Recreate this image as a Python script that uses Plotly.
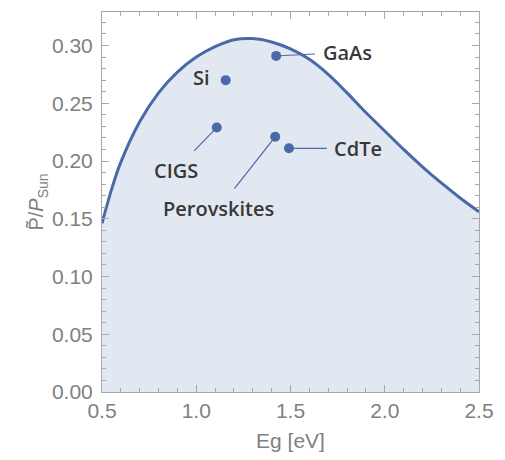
import plotly.graph_objects as go

# Efficiency limit curve
eg_curve = [0.50, 0.55, 0.60, 0.70, 0.80, 0.90, 1.00, 1.10, 1.20, 1.30, 1.40, 1.50,
            1.60, 1.70, 1.80, 1.90, 2.00, 2.10, 2.20, 2.30, 2.40, 2.50]
p_curve = [0.146, 0.175, 0.199, 0.234, 0.259, 0.277, 0.290, 0.299, 0.305, 0.306, 0.303, 0.297,
           0.288, 0.275, 0.259, 0.242, 0.226, 0.210, 0.195, 0.181, 0.168, 0.156]

# Material data points
materials = ["Si", "GaAs", "CIGS", "Perovskites", "CdTe"]
eg_mat = [1.156, 1.424, 1.109, 1.419, 1.492]
p_mat = [0.270, 0.291, 0.229, 0.221, 0.211]

# Label positions (layout)
label_x = [1.03, 1.80, 0.89, 1.12, 1.86]
label_y = [0.272, 0.294, 0.192, 0.159, 0.211]
has_leader = [False, True, True, True, True]

x_ticks = [0.5, 1.0, 1.5, 2.0, 2.5]
y_ticks = [0.00, 0.05, 0.10, 0.15, 0.20, 0.25, 0.30]

blue = "#4a69a8"
frame = "#a8a8a8"
tick_font = dict(family="Liberation Sans, Arial, sans-serif", size=21, color="#808080")
label_font = dict(family="Open Sans, sans-serif", size=20, color="#383838", weight=600)

fig = go.Figure()
fig.add_trace(go.Scatter(
    x=eg_curve, y=p_curve, mode="lines",
    line=dict(color=blue, width=3, shape="spline", smoothing=1.0),
    fill="tozeroy", fillcolor="rgba(94,129,181,0.18)",
    hoverinfo="skip", showlegend=False,
))
fig.add_trace(go.Scatter(
    x=eg_mat, y=p_mat, mode="markers",
    marker=dict(color=blue, size=10),
    showlegend=False,
))

for name, x0, y0, lx, ly, lead in zip(materials, eg_mat, p_mat, label_x, label_y, has_leader):
    if lead:
        fig.add_annotation(
            x=x0, y=y0, ax=lx, ay=ly, axref="x", ayref="y", xref="x", yref="y",
            text=name, showarrow=True, arrowhead=0, arrowwidth=1.2, arrowcolor=blue,
            standoff=3, startstandoff=6, font=label_font,
        )
    else:
        fig.add_annotation(
            x=lx, y=ly, xref="x", yref="y", text=name, showarrow=False, font=label_font,
        )

fig.update_xaxes(
    range=[0.5, 2.5], tickvals=x_ticks, ticktext=[f"{v:.1f}" for v in x_ticks],
    ticks="inside", ticklen=7, tickcolor=frame, tickwidth=1,
    minor=dict(dtick=0.1, ticks="inside", ticklen=4, tickcolor=frame, showgrid=False),
    showline=True, linecolor=frame, linewidth=1, mirror="allticks",
    showgrid=False, zeroline=False, tickfont=tick_font,
    title=dict(text="Eg [eV]", font=tick_font, standoff=12),
)
fig.update_yaxes(
    range=[0, 0.329], tickvals=y_ticks, ticktext=[f"{v:.2f}" for v in y_ticks],
    ticks="inside", ticklen=7, tickcolor=frame, tickwidth=1,
    minor=dict(dtick=0.01, tick0=0, ticks="inside", ticklen=4, tickcolor=frame, showgrid=False),
    showline=True, linecolor=frame, linewidth=1, mirror="allticks",
    showgrid=False, zeroline=False, tickfont=tick_font, ticklabelstandoff=4,
    title=dict(text="P\u0303/<i>P</i><sub>Sun</sub>",
               font=dict(family="Liberation Sans, Arial, sans-serif", size=20, color="#808080"),
               standoff=2),
)
fig.update_layout(
    width=505, height=460,
    margin=dict(l=102, r=22, t=11, b=68),
    plot_bgcolor="white", paper_bgcolor="white",
)
fig.write_html("out.html")
